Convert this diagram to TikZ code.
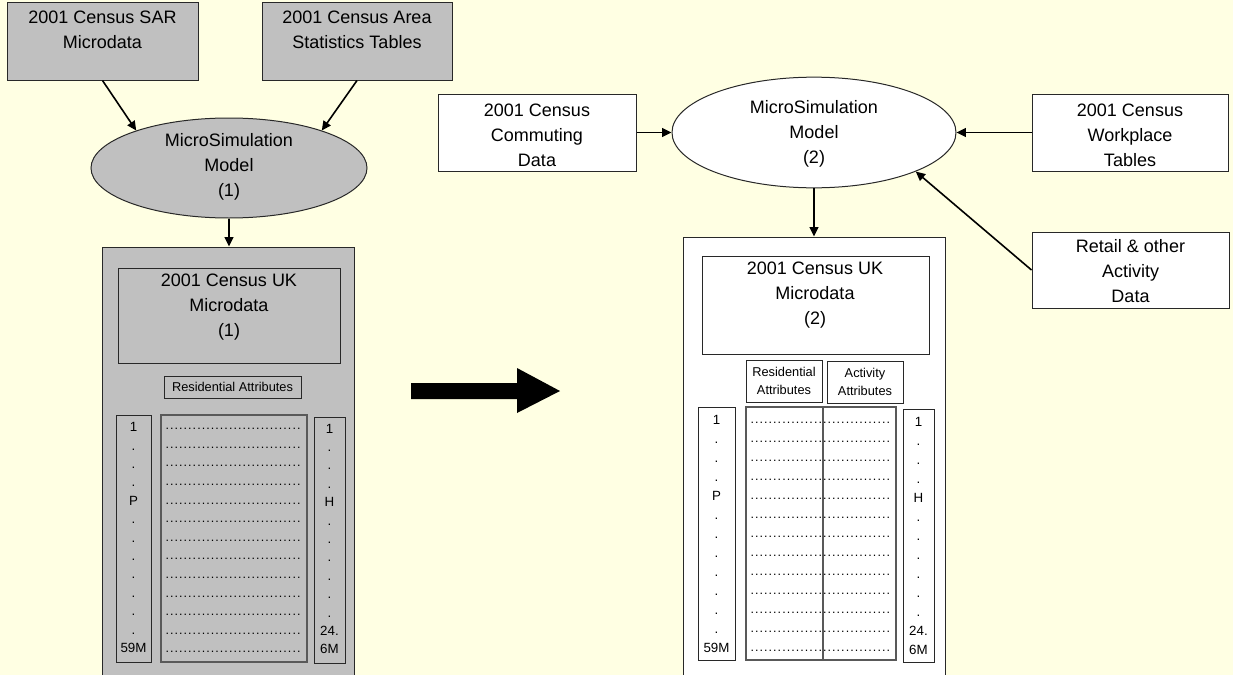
\documentclass[tikz,border=0pt]{standalone}
\usepackage{fontspec}
\setmainfont{Liberation Sans}
\usetikzlibrary{shapes.geometric,arrows.meta,fit}
\definecolor{bg}{RGB}{255,255,227}
\definecolor{gfill}{RGB}{192,192,192}
\definecolor{edge}{RGB}{40,40,40}
\newcommand\dotrow[1]{\hbox to #1{\leaders\hbox to 3.4pt{\hss.\hss}\hfill}}
\begin{document}
\begin{tikzpicture}[x=0.75pt,y=-0.75pt,
  frame/.style={draw=edge,line width=0.75pt,inner sep=0pt},
  gbox/.style={frame,fill=gfill},
  wbox/.style={frame,fill=white},
  midbox/.style={draw=black!65,line width=1pt,inner sep=0pt},
  big/.style={font=\fontsize{13.5}{18.75}\selectfont,align=center,inner sep=0pt},
  small/.style={font=\fontsize{9.6}{13.5}\selectfont,align=center,inner sep=0pt},
  colL/.style={font=\fontsize{10}{13.8}\selectfont,align=center,inner sep=0pt},
  colR/.style={font=\fontsize{10}{14.25}\selectfont,align=center,inner sep=0pt},
  dots/.style={font=\fontsize{9.4}{12}\selectfont,inner sep=0pt},
  conn/.style={draw=black,line width=1.2pt,-{Triangle[length=7pt,width=6.5pt]}},
  ell/.style={ellipse,draw=edge,line width=0.75pt,inner sep=0pt}
]
\clip (0,0) rectangle (1233,675);
\fill[bg] (0,0) rectangle (1233,675);

% ---------- left part ----------
\node[gbox,fit={(7,2)(198,80)}] (sar) {};
\node[big] (sart) at (102.5,30) {2001 Census SAR\\Microdata};
\node[gbox,fit={(262,2)(452,80)}] (area) {};
\node[big] (areat) at (357,30) {2001 Census Area\\Statistics Tables};

\node[ell,fill=gfill,minimum width=207pt,minimum height=75pt] (ell1) at (229,168) {};
\node[big] (ell1t) at (229,167) {MicroSimulation\\Model\\(1)};

\node[gbox,fit={(102,247)(354,700)}] (big1) {};
\node[frame,fit={(118,268)(340,363)}] (uk1) {};
\node[big] (uk1t) at (229,307) {2001 Census UK\\Microdata\\(1)};
\node[frame,fit={(164,376)(301,398)}] (res1) {};
\node[small] (res1t) at (232.5,387) {Residential Attributes};

\node[frame,fit={(116,415)(151,662)}] (p1) {};
\node[colL] (p1t) at (133.5,537.5) {1\\.\\.\\.\\P\\.\\.\\.\\.\\.\\.\\.\\59M};
\node[midbox,fit={(161,415)(307,662)}] (m1) {};
\foreach \i in {0,...,12}
  \node[dots] (m1r\i) at (234,{429+18.6*\i}) {\dotrow{103.5pt}};
\node[frame,fit={(314,417)(345,663)}] (h1) {};
\node[colL] (h1t) at (329.5,539) {1\\.\\.\\.\\H\\.\\.\\.\\.\\.\\.\\24.\\6M};

% ---------- big arrow ----------
\fill[black] (411,383) -- (517,383) -- (517,368) -- (560,391) -- (517,413) -- (517,399) -- (411,399) -- cycle;

% ---------- right part ----------
\node[wbox,fit={(438,94)(636,171)}] (comm) {};
\node[big] (commt) at (537,135) {2001 Census\\Commuting\\Data};
\node[ell,fill=white,minimum width=213pt,minimum height=83pt] (ell2) at (814,132.5) {};
\node[big] (ell2t) at (814,134) {MicroSimulation\\Model\\(2)};
\node[wbox,fit={(1032,94)(1228,171)}] (work) {};
\node[big] (workt) at (1130,135) {2001 Census\\Workplace\\Tables};
\node[wbox,fit={(1032,232)(1229,308)}] (ret) {};
\node[big] (rett) at (1130.5,271) {Retail \& other\\Activity\\Data};

\node[wbox,fit={(683,237)(945,700)}] (big2) {};
\node[frame,fit={(702,256)(929,354)}] (uk2) {};
\node[big] (uk2t) at (815,295) {2001 Census UK\\Microdata\\(2)};
\node[frame,fit={(746,360)(822,402)}] (res2) {};
\node[small] (res2t) at (784,381) {Residential\\Attributes};
\node[frame,fit={(827,361)(903,403)}] (act2) {};
\node[small] (act2t) at (865,382) {Activity\\Attributes};

\node[frame,fit={(698,407)(735,660)}] (p2) {};
\node[colR] (p2t) at (716.5,534) {1\\.\\.\\.\\P\\.\\.\\.\\.\\.\\.\\.\\59M};
\node[midbox,fit={(746,407)(896,660)}] (m2) {};
\foreach \i in {0,...,12}
  \node[dots] (m2r\i) at (821,{423+19*\i}) {\dotrow{106.5pt}};
\coordinate (d2a) at (823,407);
\coordinate (d2b) at (823,660);
\draw[draw=black!65,line width=1pt] (d2a) -- (d2b);
\node[frame,fit={(903,409)(934,662)}] (h2) {};
\node[colR] (h2t) at (918.5,536) {1\\.\\.\\.\\H\\.\\.\\.\\.\\.\\.\\24.\\6M};

% ---------- connectors ----------
\draw[conn] (sar.south) -- (ell1.158);
\draw[conn] (area.south) -- (ell1.22);
\draw[conn] (ell1.south) -- (ell1.south |- big1.north);
\draw[conn] (comm.east) -- (ell2.west);
\draw[conn] (work.west) -- (ell2.east);
\draw[conn] (ret.west) -- (ell2.-21.6);
\draw[conn] (ell2.south) -- (ell2.south |- big2.north);
\end{tikzpicture}
\end{document}
